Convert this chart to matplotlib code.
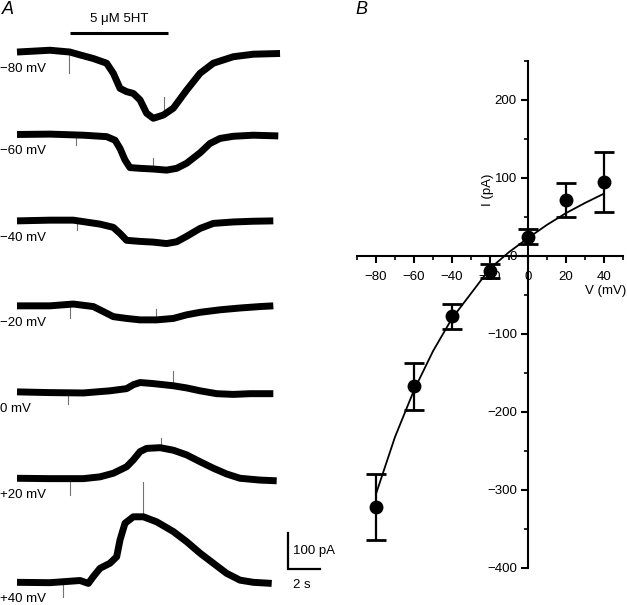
import numpy as np
import matplotlib
matplotlib.use('Agg')
import matplotlib.pyplot as plt

plt.rcParams['font.family'] = ['Liberation Sans', 'DejaVu Sans']
plt.rcParams['font.size'] = 9.5

# ---- panel A: 5HT currents at each holding potential ----
# time (s) and current (pA, relative to the trace baseline)
holding = ["\u221280 mV", "\u221260 mV", "\u221240 mV", "\u221220 mV", "0 mV", "+20 mV", "+40 mV"]

t_m80 = [0, 2.06, 3.31, 3.94, 4.77, 5.6, 6.02, 6.44, 6.85, 7.27, 7.69, 8.1, 8.52, 9.15, 9.77, 10.6, 11.44, 12.27, 13.52, 14.77, 16.44]
i_m80 = [0, 5, 0, -8, -18, -31, -59, -101, -110, -115, -133, -170, -184, -175, -156, -106, -59, -31, -13, -6, -4]

t_m60 = [0, 2.06, 4.15, 5.6, 6.13, 6.44, 6.75, 7.06, 7.69, 8.52, 9.35, 9.98, 10.6, 11.44, 12.06, 12.69, 13.52, 14.77, 16.33]
i_m60 = [0, 1, -2, -6, -16, -39, -71, -92, -94, -96, -99, -94, -80, -51, -25, -11, -5, -2, -4]

t_m40 = [0, 2.06, 3.52, 5.19, 6.02, 6.44, 6.85, 7.69, 8.52, 9.35, 9.98, 10.6, 11.44, 12.27, 13.52, 14.77, 16.02]
i_m40 = [0, 2, 2, -9, -18, -35, -54, -57, -59, -63, -58, -43, -21, -7, -3, -1, 0]

t_m20 = [0, 2.06, 3.52, 4.77, 5.4, 6.02, 6.85, 7.69, 8.73, 9.77, 10.6, 11.44, 12.69, 13.94, 15.19, 16.02]
i_m20 = [0, 0, 5, -2, -16, -30, -35, -39, -39, -35, -25, -18, -11, -6, -2, 0]

t_0 = [0, 2.06, 4.15, 5.81, 6.85, 7.27, 7.69, 8.52, 9.77, 10.6, 11.44, 12.48, 13.52, 14.56, 16.02]
i_0 = [0, -2, -3, 3, 9, 20, 26, 23, 17, 11, 3, -5, -7, -5, -5]

t_p20 = [0, 2.06, 4.15, 5.19, 6.02, 6.85, 7.27, 7.69, 8.1, 8.94, 9.77, 10.6, 11.44, 12.27, 13.1, 13.94, 15.19, 16.23]
i_p20 = [0, -1, -1, 4, 14, 32, 51, 74, 83, 85, 78, 65, 46, 28, 12, 0, -5, -7]

t_p40 = [0, 2.06, 3.94, 4.46, 4.77, 5.19, 5.81, 6.23, 6.44, 6.75, 7.27, 7.9, 8.73, 9.77, 10.6, 11.44, 12.27, 13.1, 13.94, 14.77, 15.92]
i_p40 = [0, -1, 5, -3, 16, 39, 53, 71, 118, 164, 182, 182, 168, 141, 113, 81, 53, 25, 6, 0, -3]

# switching artefacts: (time s, from pA, to pA)
art_m80 = [(3.27, -8, -58), (9.2, -175, -125)]
art_m60 = [(3.69, 0, -28), (8.52, -96, -66)]
art_m40 = [(3.73, 0, -26)]
art_m20 = [(3.31, 0, -34), (8.69, -39, -9)]
art_0 = [(3.21, -3, -34), (9.77, 17, 58)]
art_p20 = [(3.31, 0, -46), (9.0, 85, 111)]
art_p40 = [(2.9, 0, -40), (7.9, 182, 280)]

drug_on, drug_off = 3.31, 9.44

# ---- panel B: I-V relation ----
v_mv = [-80, -60, -40, -20, 0, 20, 40]
i_mean = [-322, -167, -77, -19, 25, 72, 95]
i_sem = [42, 30, 16, 9, 9, 22, 38]

fit_v = [-80, -70, -60, -50, -40, -30, -20, -10, 0, 10, 20, 30, 40]
fit_i = [-305, -232, -172, -122, -80, -48, -16, 5, 23, 40, 55, 68, 80]

fig = plt.figure(figsize=(6.27, 6.05), dpi=100)

# panel A axes: 16 px per s, 0.36 px per pA
axA = fig.add_axes([0, 0, 330 / 627, 1])
axA.set_xlim(-17 / 16, 313 / 16)
axA.set_ylim(0, 605 / 0.36)
axA.axis('off')

traces = [(t_m80, i_m80, art_m80), (t_m60, i_m60, art_m60), (t_m40, i_m40, art_m40),
          (t_m20, i_m20, art_m20), (t_0, i_0, art_0), (t_p20, i_p20, art_p20),
          (t_p40, i_p40, art_p40)]
offsets = [1536, 1307, 1067, 831, 592, 352, 63]

for (tt, ii, arts), off, lab in zip(traces, offsets, holding):
    for ta, a0, a1 in arts:
        axA.plot([ta, ta], [off + a0, off + a1], color='0.45', lw=0.8, zorder=1)
    axA.plot(tt, np.array(ii) + off, color='k', lw=5, solid_joinstyle='round',
             solid_capstyle='butt', zorder=2)
    axA.text(-17 / 16, off - 47, lab, ha='left', va='center', fontsize=9.5)

# drug application bar
axA.plot([drug_on, drug_off], [1589, 1589], color='k', lw=2.2, solid_capstyle='butt')
axA.text((drug_on + drug_off) / 2, 1628, "5 \u03bcM 5HT", ha='center', va='center')

# scale bar 100 pA / 2 s
sx, sy = 16.94, 100
axA.plot([sx, sx, sx + 2], [sy + 100, sy, sy], color='k', lw=1.6,
         solid_joinstyle='miter')
axA.text(sx + 0.3, sy + 50, "100 pA", ha='left', va='center')
axA.text(sx + 0.3, sy - 45, "2 s", ha='left', va='center')

fig.text(2 / 627, 1 - 10 / 605, "A", fontsize=13, style='italic', ha='left', va='center')
fig.text(355 / 627, 1 - 10 / 605, "B", fontsize=13, style='italic', ha='left', va='center')

# panel B axes
axB = fig.add_axes([357 / 627, 1 - 568 / 605, 266 / 627, 507 / 605])
axB.set_xlim(-90, 50)
axB.set_ylim(-400, 250)
for s in ['top', 'right']:
    axB.spines[s].set_visible(False)
axB.spines['left'].set_position(('data', 0))
axB.spines['bottom'].set_position(('data', 0))
axB.spines['left'].set_linewidth(1.5)
axB.spines['bottom'].set_linewidth(1.5)
axB.patch.set_visible(False)

axB.set_xticks([-80, -60, -40, -20, 0, 20, 40])
axB.set_xticks(np.arange(-90, 51, 10), minor=True)
axB.set_yticks([-400, -300, -200, -100, 0, 100, 200])
axB.set_yticks(np.arange(-400, 251, 50), minor=True)
axB.set_xticklabels(["\u221280", "\u221260", "\u221240", "\u221220", "0", "20", "40"])
axB.set_yticklabels(["\u2212400", "\u2212300", "\u2212200", "\u2212100", "0", "100", "200"])
axB.tick_params(which='major', length=5, width=1.5, direction='out', labelsize=9.5, pad=3)
axB.tick_params(which='minor', length=3, width=1.2, direction='out')
axB.tick_params(axis='x', pad=6)

axB.plot(fit_v, fit_i, color='k', lw=1.3, zorder=2)
axB.errorbar(v_mv, i_mean, yerr=i_sem, fmt='o', color='k', ms=9, capsize=7,
             capthick=2, elinewidth=1.6, zorder=3)

axB.text(41, -45, "V (mV)", ha='center', va='center')
axB.text(-21, 85, "I (pA)", ha='center', va='center', rotation=90)

fig.savefig('out.png', dpi=100)
